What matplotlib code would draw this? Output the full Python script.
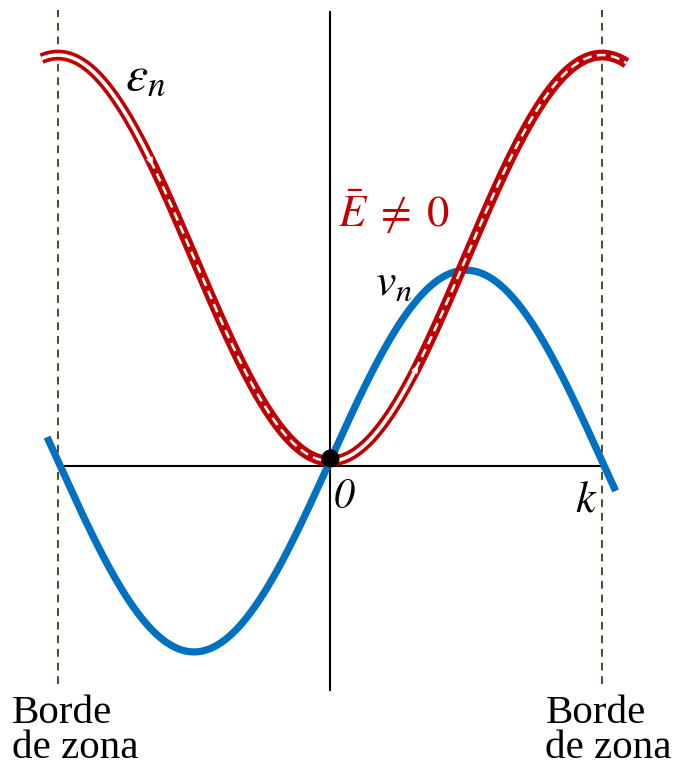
import numpy as np
import matplotlib
matplotlib.use("Agg")
import matplotlib.pyplot as plt

plt.rcParams['mathtext.fontset'] = 'stix'

# Banda en unidades de pi/a: energia 1 - cos(k), velocidad sin(k)
k_energia = np.linspace(-1.06, 1.09, 500)
energia = 1 - np.cos(np.pi * k_energia)
k_velocidad = np.linspace(-1.04, 1.05, 400)
velocidad = 0.94 * np.sin(np.pi * k_velocidad)

# Tramos ocupados (desplazados por el campo) y vacios
ocupado_izq = (-0.662, 0.0)
ocupado_der = (0.3125, 1.09)
borde_zona = [-1.0, 1.0]

rojo = '#c00000'
azul = '#0070c0'
verde = '#375623'

fig = plt.figure(figsize=(6.79, 7.66), dpi=100)
ax = fig.add_axes([0, 0, 1, 1])
ax.set_xlim(-1.213, 1.283)
ax.set_ylim(-1.502, 2.271)
ax.axis('off')

# ejes
ax.plot([0, 0], [-1.13, 2.21], color='black', lw=1.5, zorder=1)
ax.plot([-0.974, 1.0], [-0.025, -0.025], color='black', lw=1.5, zorder=1)

# bordes de zona
for xb in borde_zona:
    ax.plot([xb, xb], [-1.10, 2.22], color=verde, lw=1.4, ls=(0, (4, 3)), zorder=1)

# velocidad
ax.plot(k_velocidad, velocidad, color=azul, lw=5.2, solid_capstyle='butt', zorder=2)

# energia: contorno rojo con relleno blanco
ax.plot(k_energia, energia, color=rojo, lw=7.8, solid_capstyle='butt', zorder=3)
for a, b in [(k_energia[0], ocupado_izq[0]), (ocupado_izq[1], ocupado_der[0])]:
    m = (k_energia >= a) & (k_energia <= b)
    ax.plot(k_energia[m], energia[m], color='white', lw=2.6,
            solid_capstyle='butt', zorder=4)
for a, b in [ocupado_izq, ocupado_der]:
    m = (k_energia >= a) & (k_energia <= b)
    ax.plot(k_energia[m], energia[m], color='white', lw=1.8,
            dashes=(3.5, 2.2), zorder=4)

# puntas de flecha en los extremos de los tramos ocupados
for kx in [ocupado_izq[0], ocupado_der[0]]:
    d = 0.012
    ax.annotate('', xy=(kx + d, 1 - np.cos(np.pi * (kx + d))),
                xytext=(kx - d, 1 - np.cos(np.pi * (kx - d))),
                arrowprops=dict(arrowstyle='-|>,head_length=0.55,head_width=0.22',
                                color='white', lw=0.5, shrinkA=0, shrinkB=0),
                zorder=5)

ax.plot(0, 0.015, 'o', color='black', ms=12, zorder=6)

# etiquetas
ax.text(-0.752, 1.83, r'$\varepsilon_n$', fontsize=36, color='black')
ax.text(0.028, 1.16, r'$\bar{E}\;\neq\;0$', fontsize=32, color=rojo)
ax.text(0.165, 0.82, r'$v_n$', fontsize=33, color='black')
ax.text(0.012, -0.23, '0', fontsize=30, family='STIXGeneral', style='italic',
        color='black')
ax.text(0.9, -0.25, r'$k$', fontsize=32, color='black')

for xt in [-1.17, 0.792]:
    ax.text(xt, -1.463, 'Borde\nde zona', fontsize=29.5, family='Liberation Serif',
            linespacing=0.92, va='baseline', ha='left')

fig.savefig('out.png', dpi=100)
plt.close(fig)
